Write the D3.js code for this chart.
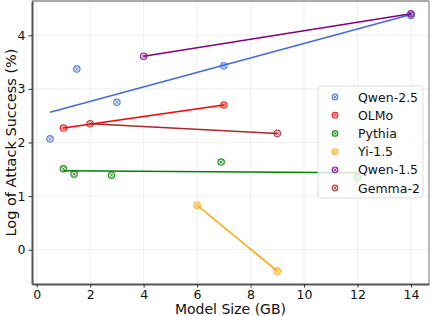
<!DOCTYPE html>
<html lang="en">
<head>
<meta charset="UTF-8">
<title>Attack success vs model size</title>
<script src="https://cdn.jsdelivr.net/npm/d3@7"></script>
<style>
  body { margin: 0; background: #fff; }
  svg { font-family: "DejaVu Sans", sans-serif; }
</style>
</head>
<body>
<script>
// model families, sizes (GB) and log attack success
var families = ["Qwen-2.5", "OLMo", "Pythia", "Yi-1.5", "Qwen-1.5", "Gemma-2"];
var colors   = ["#4169e1", "#ff0000", "#008000", "#ffa500", "#800080", "#a52a2a"];

var qwen25Size = [0.5, 1.5, 3, 7, 14];
var qwen25Val  = [2.07, 3.37, 2.75, 3.43, 4.37];
var olmoSize   = [1, 7];
var olmoVal    = [2.27, 2.70];
var pythiaSize = [1, 1.4, 2.8, 6.9, 12];
var pythiaVal  = [1.51, 1.41, 1.39, 1.635, 1.35];
var yiSize     = [6, 9];
var yiVal      = [0.83, -0.40];
var qwen15Size = [4, 14];
var qwen15Val  = [3.61, 4.40];
var gemmaSize  = [2, 9];
var gemmaVal   = [2.35, 2.17];

var xTicks = [0, 2, 4, 6, 8, 10, 12, 14];
var yTicks = [0, 1, 2, 3, 4];

var series = [
    {name: families[0], color: colors[0], x: qwen25Size, y: qwen25Val},
    {name: families[1], color: colors[1], x: olmoSize,   y: olmoVal},
    {name: families[2], color: colors[2], x: pythiaSize, y: pythiaVal},
    {name: families[3], color: colors[3], x: yiSize,     y: yiVal},
    {name: families[4], color: colors[4], x: qwen15Size, y: qwen15Val},
    {name: families[5], color: colors[5], x: gemmaSize,  y: gemmaVal}
];

var width = 432, height = 316;
var margin = {top: 1, right: 3, bottom: 32, left: 32};

var x = d3.scaleLinear().domain([-0.175, 14.675]).range([margin.left, width - margin.right]);
var y = d3.scaleLinear().domain([-0.64, 4.64]).range([height - margin.bottom, margin.top]);

var svg = d3.select("body").append("svg")
    .attr("width", width)
    .attr("height", height);

// grid
svg.append("g").selectAll("line").data(xTicks).enter().append("line")
    .attr("x1", function(d){ return x(d); }).attr("x2", function(d){ return x(d); })
    .attr("y1", margin.top).attr("y2", height - margin.bottom)
    .attr("stroke", "#ebebeb").attr("stroke-width", 0.8);
svg.append("g").selectAll("line").data(yTicks).enter().append("line")
    .attr("y1", function(d){ return y(d); }).attr("y2", function(d){ return y(d); })
    .attr("x1", margin.left).attr("x2", width - margin.right)
    .attr("stroke", "#ebebeb").attr("stroke-width", 0.8);

// least squares fit drawn from min to max size
function fit(s) {
    var mx = d3.mean(s.x), my = d3.mean(s.y);
    var sxy = d3.sum(s.x, function(v, i){ return (v - mx) * (s.y[i] - my); });
    var sxx = d3.sum(s.x, function(v){ return (v - mx) * (v - mx); });
    var b = sxy / sxx, a = my - b * mx;
    var x0 = d3.min(s.x), x1 = d3.max(s.x);
    return [[x0, a + b * x0], [x1, a + b * x1]];
}

var line = d3.line().x(function(d){ return x(d[0]); }).y(function(d){ return y(d[1]); });

series.forEach(function(s) {
    svg.append("path")
        .attr("d", line(fit(s)))
        .attr("fill", "none")
        .attr("stroke", s.color)
        .attr("stroke-width", 1.5);
});

function marker(g, cx, cy, color, r) {
    r = r || 3.2;
    var k = r * 0.5;
    g.append("circle").attr("cx", cx).attr("cy", cy).attr("r", r)
        .attr("fill", color).attr("fill-opacity", 0.15)
        .attr("stroke", color).attr("stroke-width", 1.2).attr("opacity", 0.85);
    g.append("path")
        .attr("d", "M" + (cx - k) + "," + (cy - k) + "L" + (cx + k) + "," + (cy + k) +
                   "M" + (cx - k) + "," + (cy + k) + "L" + (cx + k) + "," + (cy - k))
        .attr("stroke", color).attr("stroke-width", 0.9).attr("opacity", 0.85);
}

series.forEach(function(s) {
    var g = svg.append("g");
    s.x.forEach(function(v, i) { marker(g, x(v), y(s.y[i]), s.color); });
});

// axes spines
var xAxis = svg.append("g")
    .attr("transform", "translate(0," + (height - margin.bottom) + ")")
    .call(d3.axisBottom(x).tickValues(xTicks).tickFormat(d3.format("d"))
        .tickSize(3.5).tickPadding(2.5).tickSizeOuter(0));
var yAxis = svg.append("g")
    .attr("transform", "translate(" + margin.left + ",0)")
    .call(d3.axisLeft(y).tickValues(yTicks).tickFormat(d3.format("d"))
        .tickSize(3.5).tickPadding(3).tickSizeOuter(0));
[xAxis, yAxis].forEach(function(a) {
    a.select(".domain").attr("stroke", "#555").attr("stroke-width", 2);
    a.selectAll(".tick line").attr("stroke", "#333");
    a.selectAll(".tick text").attr("font-size", 12.5).attr("fill", "#111")
        .attr("font-family", "DejaVu Sans");
});
// top and right border
svg.append("line").attr("x1", margin.left).attr("x2", width - margin.right)
    .attr("y1", margin.top).attr("y2", margin.top).attr("stroke", "#555").attr("stroke-width", 1.2);
svg.append("line").attr("x1", width - margin.right).attr("x2", width - margin.right)
    .attr("y1", margin.top).attr("y2", height - margin.bottom).attr("stroke", "#777").attr("stroke-width", 1);

// axis labels
svg.append("text")
    .attr("x", (margin.left + width - margin.right) / 2).attr("y", 314)
    .attr("text-anchor", "middle").attr("font-size", 14).attr("fill", "#111")
    .text("Model Size (GB)");
svg.append("text")
    .attr("transform", "translate(16," + ((margin.top + height - margin.bottom) / 2) + ") rotate(-90)")
    .attr("text-anchor", "middle").attr("font-size", 14.5).attr("fill", "#111")
    .text("Log of Attack Success (%)");

// legend
var lg = svg.append("g").attr("transform", "translate(318,86)");
lg.append("rect").attr("width", 105).attr("height", 112).attr("rx", 3)
    .attr("fill", "#fff").attr("fill-opacity", 0.8)
    .attr("stroke", "#ddd").attr("stroke-width", 1);
series.forEach(function(s, i) {
    var cy = 11 + i * 18.2;
    marker(lg, 17, cy, s.color, 2.8);
    lg.append("text").attr("x", 40).attr("y", cy + 4.5)
        .attr("font-size", 12.5).attr("fill", "#111").text(s.name);
});
</script>
</body>
</html>
